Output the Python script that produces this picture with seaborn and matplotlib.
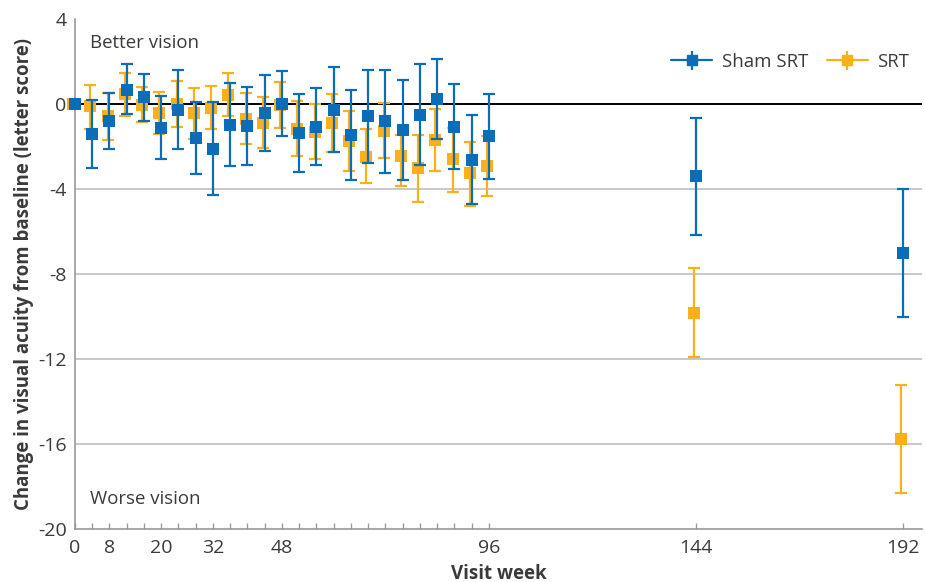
import numpy as np
import pandas as pd
import matplotlib
matplotlib.use("Agg")
import matplotlib.pyplot as plt
import seaborn as sns

# ---- data ----
weeks = [0, 4, 8, 12, 16, 20, 24, 28, 32, 36, 40, 44, 48, 52, 56, 60, 64,
         68, 72, 76, 80, 84, 88, 92, 96, 144, 192]

sham_mean = [0.0, -1.41, -0.78, 0.66, 0.35, -1.11, -0.28, -1.58, -2.12, -0.99,
             -1.04, -0.41, 0.0, -1.35, -1.07, -0.28, -1.46, -0.56, -0.78, -1.22,
             -0.52, 0.24, -1.07, -2.64, -1.49, -3.39, -7.0]
sham_low = [0.0, -3.0, -2.13, -0.47, -0.8, -2.6, -2.13, -3.29, -4.28, -2.93,
            -2.85, -2.21, -1.51, -3.2, -2.84, -2.24, -3.58, -2.76, -3.26, -3.58,
            -2.84, -1.62, -3.07, -4.72, -3.5, -6.15, -10.01]
sham_high = [0.0, 0.19, 0.53, 1.88, 1.44, 0.38, 1.6, 0.09, 0.08, 1.02,
             0.82, 1.36, 1.55, 0.47, 0.74, 1.76, 0.69, 1.63, 1.63, 1.16,
             1.88, 2.15, 0.94, -0.52, 0.5, -0.63, -3.97]

srt_mean = [0.0, -0.09, -0.55, 0.5, -0.02, -0.41, 0.0, -0.41, -0.16, 0.42,
            -0.71, -0.88, -0.02, -1.18, -1.3, -0.88, -1.73, -2.48, -1.27, -2.45,
            -3.0, -1.69, -2.59, -3.26, -2.92, -9.82, -15.78]
srt_low = [0.0, -1.15, -1.69, -0.55, -0.86, -1.41, -1.07, -1.62, -1.19, -0.55,
           -1.88, -2.05, -1.1, -2.45, -2.6, -2.24, -3.14, -3.73, -2.53, -3.84,
           -4.6, -3.14, -4.13, -4.77, -4.31, -11.89, -18.32]
srt_high = [0.0, 0.89, 0.53, 1.47, 0.82, 0.56, 1.08, 0.77, 0.85, 1.47,
            0.53, 0.35, 1.05, 0.16, 0.03, 0.47, -0.33, -1.19, 0.06, -1.46,
            -1.43, -0.25, -1.1, -1.77, -1.51, -7.7, -13.22]

labeled_weeks = [0, 8, 20, 32, 48, 96, 144, 192]
y_ticks = [4, 0, -4, -8, -12, -16, -20]

BLUE = "#0B6DB7"
ORANGE = "#F9B01B"
TEXT = "#3a3a3a"
SPINE = "#999999"

sns.set_theme(style="white")
plt.rcParams["font.family"] = ["Open Sans", "DejaVu Sans"]

df = pd.DataFrame({
    "week": weeks * 2,
    "mean": sham_mean + srt_mean,
    "low": sham_low + srt_low,
    "high": sham_high + srt_high,
    "group": ["Sham SRT"] * len(weeks) + ["SRT"] * len(weeks),
})
offsets = {"SRT": -0.4, "Sham SRT": 0.0}
colors = {"SRT": ORANGE, "Sham SRT": BLUE}
df["x"] = df["week"] + df["group"].map(offsets)

fig = plt.figure(figsize=(9.25, 5.82), dpi=100)
ax = fig.add_axes([0.081, 0.091, 0.916, 0.876])

# grid lines
for yv in y_ticks:
    if yv in (4, -20):
        continue
    ax.axhline(yv, color="black" if yv == 0 else "#c4c4c4",
               lw=1.4 if yv == 0 else 1.3, zorder=1)

z = 3
for grp in ["SRT", "Sham SRT"]:
    d = df[df["group"] == grp]
    yerr = np.vstack([d["mean"].values - d["low"].values,
                      d["high"].values - d["mean"].values])
    ax.errorbar(d["x"].values, d["mean"].values, yerr=yerr, fmt="none",
                ecolor=colors[grp], elinewidth=1.6, capsize=4.3,
                capthick=1.6, zorder=z, clip_on=False)
    sns.scatterplot(data=d, x="x", y="mean", color=colors[grp], marker="s",
                    s=75, edgecolor="none", linewidth=0, legend=False, ax=ax,
                    zorder=z + 1, clip_on=False)
    z += 2

# legend proxies
lh = []
for grp in ["Sham SRT", "SRT"]:
    h = ax.errorbar([], [], yerr=[], fmt="-s", color=colors[grp], ms=6.5,
                    lw=1.6, elinewidth=1.6, capsize=3, capthick=1.6,
                    label=grp)
    lh.append(h)
leg = ax.legend(handles=lh, labels=["Sham SRT", "SRT"], loc="upper right",
                bbox_to_anchor=(1.004, 0.967), ncol=2, frameon=False,
                fontsize=13.4, handlelength=2.2, columnspacing=1.0,
                handletextpad=0.5)
for t in leg.get_texts():
    t.set_color(TEXT)

ax.set_xlim(0, 196.5)
ax.set_ylim(-20, 4)
ax.set_xticks(weeks)
ax.set_xticklabels([str(w) if w in labeled_weeks else "" for w in weeks])
ax.set_yticks(y_ticks)
ax.set_yticklabels([str(v) for v in y_ticks])
ax.tick_params(axis="x", direction="in", length=4, width=1, color=SPINE,
               labelsize=14, labelcolor=TEXT, pad=7, bottom=True)
ax.tick_params(axis="y", length=0, labelsize=14, labelcolor=TEXT, pad=6)

for s in ["top", "right"]:
    ax.spines[s].set_visible(False)
for s in ["left", "bottom"]:
    ax.spines[s].set_color(SPINE)
    ax.spines[s].set_linewidth(1.2)

ax.set_xlabel("Visit week", fontsize=13.5, fontweight="bold", color=TEXT,
              labelpad=5)
ax.set_ylabel("Change in visual acuity from baseline (letter score)",
              fontsize=13.4, fontweight="bold", color=TEXT, labelpad=3)

ax.text(3.5, 2.9, "Better vision", fontsize=13.4, color=TEXT, va="center",
        ha="left")
ax.text(3.5, -18.6, "Worse vision", fontsize=13.4, color=TEXT, va="center",
        ha="left")

fig.savefig("out.png", dpi=100)
